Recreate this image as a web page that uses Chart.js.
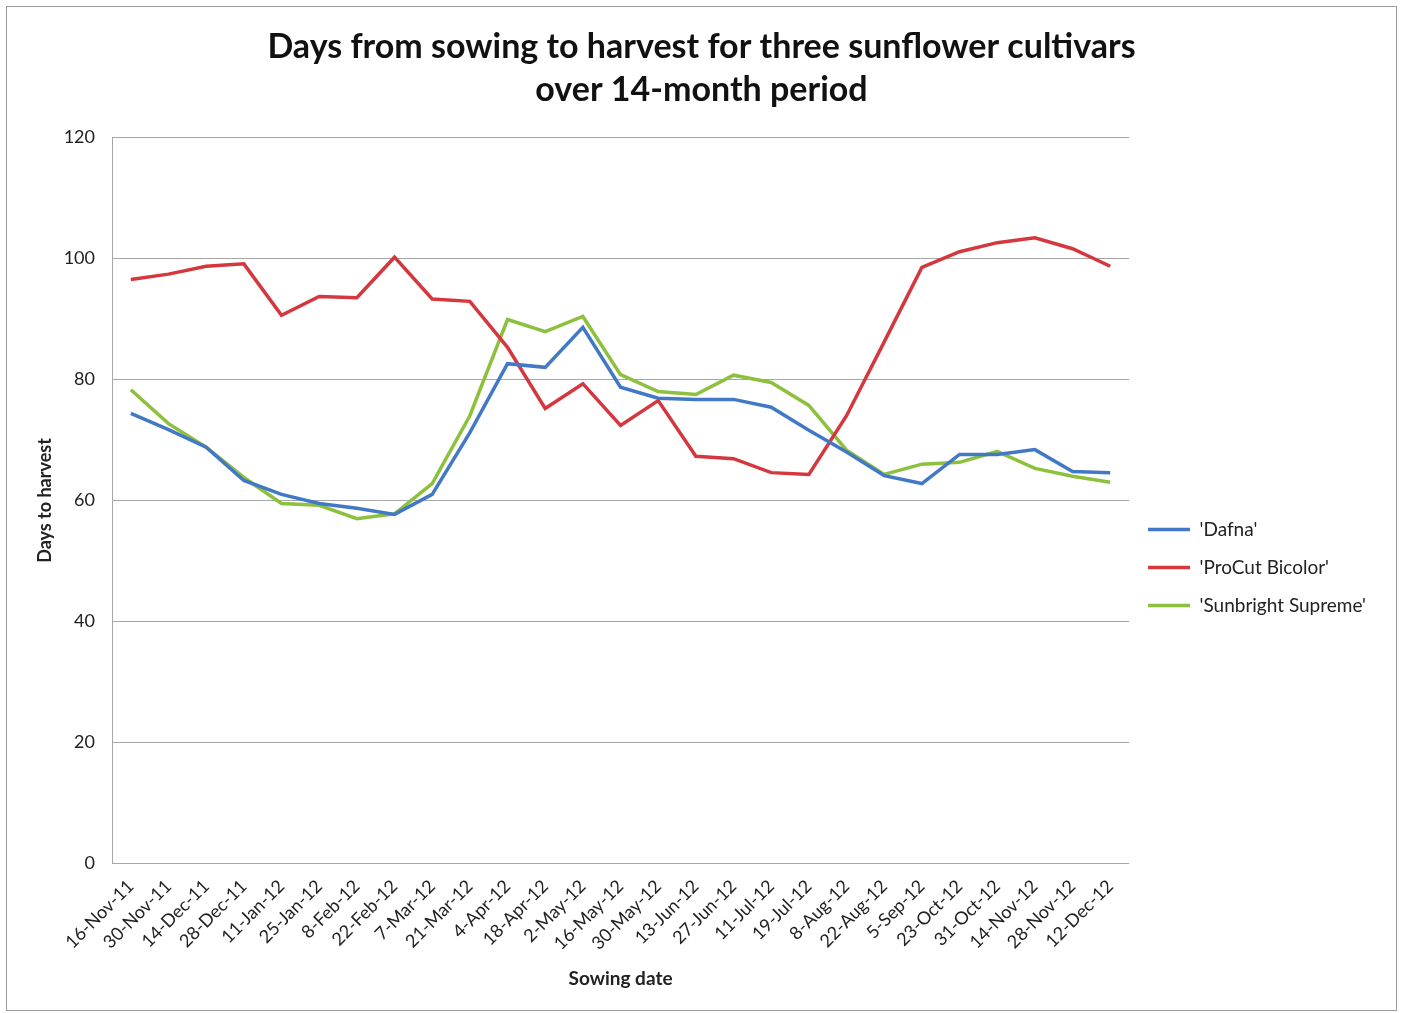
<!DOCTYPE html>
<html>
<head>
<meta charset="utf-8">
<title>Days from sowing to harvest</title>
<script src="https://cdn.jsdelivr.net/npm/chart.js@4.4.1/dist/chart.umd.min.js"></script>
<style>
    body { margin: 0; background: #fff; }
    #wrap {
        position: absolute;
        left: 6px;
        top: 6px;
        width: 1389px;
        height: 1003px;
        border: 1px solid #9a9a9a;
    }
</style>
</head>
<body>
<div id="wrap"><canvas id="sowing-chart"></canvas></div>
<script>
const sowingDates = [
    '16-Nov-11', '30-Nov-11', '14-Dec-11', '28-Dec-11', '11-Jan-12', '25-Jan-12',
    '8-Feb-12', '22-Feb-12', '7-Mar-12', '21-Mar-12', '4-Apr-12', '18-Apr-12',
    '2-May-12', '16-May-12', '30-May-12', '13-Jun-12', '27-Jun-12', '11-Jul-12',
    '19-Jul-12', '8-Aug-12', '22-Aug-12', '5-Sep-12', '23-Oct-12', '31-Oct-12',
    '14-Nov-12', '28-Nov-12', '12-Dec-12'
];

const dafna = [
    74.4, 71.7, 68.8, 63.3, 61.0, 59.5, 58.7, 57.7, 61.0, 71.2, 82.6, 82.0,
    88.6, 78.7, 76.9, 76.7, 76.7, 75.4, 71.6, 68.0, 64.1, 62.8, 67.6, 67.6,
    68.4, 64.8, 64.6
];

const procutBicolor = [
    96.5, 97.4, 98.7, 99.1, 90.6, 93.7, 93.5, 100.2, 93.3, 92.9, 85.3, 75.2,
    79.3, 72.4, 76.5, 67.3, 66.9, 64.6, 64.3, 74.0, 86.2, 98.5, 101.1, 102.6,
    103.4, 101.6, 98.7
];

const sunbrightSupreme = [
    78.3, 72.7, 68.8, 63.8, 59.5, 59.2, 57.0, 57.8, 62.8, 74.0, 89.9, 87.9,
    90.4, 80.8, 78.0, 77.5, 80.7, 79.5, 75.7, 68.3, 64.3, 66.0, 66.3, 68.1,
    65.3, 64.0, 63.0
];

const yTicks = { min: 0, max: 120, step: 20 };

const lineSeries = (label, values, color) => ({
    label: label,
    data: values,
    borderColor: color,
    backgroundColor: color,
    borderWidth: 3.5,
    pointRadius: 0,
    pointHoverRadius: 0,
    pointStyle: 'line',
    tension: 0,
    fill: false
});

new Chart(document.getElementById('sowing-chart'), {
    type: 'line',
    data: {
        labels: sowingDates,
        datasets: [
            lineSeries("'Dafna'", dafna, '#4279c6'),
            lineSeries("'ProCut Bicolor'", procutBicolor, '#d4383e'),
            lineSeries("'Sunbright Supreme'", sunbrightSupreme, '#8dc03d')
        ]
    },
    options: {
        responsive: true,
        maintainAspectRatio: false,
        animation: false,
        layout: {
            padding: { left: 20, right: 20, top: 0, bottom: 20 }
        },
        scales: {
            x: {
                offset: true,
                grid: { display: false },
                border: { display: false },
                // let the slanted labels hang under the y axis like Excel does
                afterFit: (scale) => {
                    scale.paddingLeft = 0;
                    scale.paddingRight = 0;
                },
                ticks: {
                    autoSkip: false,
                    minRotation: 45,
                    maxRotation: 45,
                    padding: 4,
                    color: '#222',
                    font: { family: 'Lato', size: 18 }
                },
                title: {
                    display: true,
                    text: 'Sowing date',
                    color: '#222',
                    font: { family: 'Lato', size: 19, weight: 'bold' },
                    padding: { top: 9, bottom: 0 }
                }
            },
            y: {
                min: yTicks.min,
                max: yTicks.max,
                afterFit: (scale) => {
                    scale.width = 85;
                },
                ticks: {
                    stepSize: yTicks.step,
                    padding: 17,
                    color: '#222',
                    font: { family: 'Lato', size: 18 }
                },
                grid: {
                    color: '#a6a6a6',
                    lineWidth: 1,
                    drawTicks: false
                },
                border: { display: true, color: '#a6a6a6' },
                title: {
                    display: true,
                    text: 'Days to harvest',
                    color: '#222',
                    font: { family: 'Lato', size: 18, weight: 'bold' },
                    padding: { top: 7, bottom: 8 }
                }
            }
        },
        plugins: {
            title: {
                display: true,
                text: ['Days from sowing to harvest for three sunflower cultivars', 'over 14-month period'],
                color: '#111',
                font: { family: 'Lato', size: 34, weight: 'bold', lineHeight: 1.27 },
                padding: { top: 18.5, bottom: 25.5 }
            },
            legend: {
                position: 'right',
                align: 'center',
                // empty title only pushes the entries down to where Excel put them
                title: {
                    display: true,
                    text: ' ',
                    font: { size: 1 },
                    padding: { top: 137, bottom: 0 }
                },
                labels: {
                    usePointStyle: true,
                    pointStyleWidth: 42,
                    padding: 19,
                    color: '#222',
                    font: { family: 'Lato', size: 19 }
                }
            },
            tooltip: { enabled: false }
        }
    }
});
</script>
</body>
</html>
